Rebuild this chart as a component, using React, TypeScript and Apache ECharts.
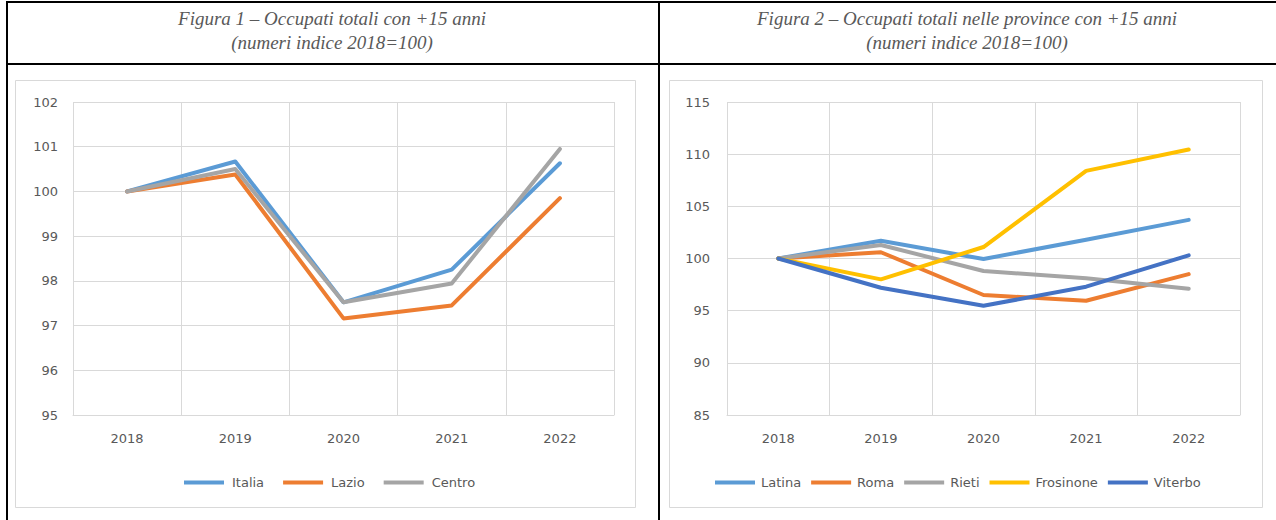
import React, { useEffect, useRef } from "react";
import * as echarts from "echarts";

const years = ["2018", "2019", "2020", "2021", "2022"];

const italia = [100, 100.67, 97.52, 98.25, 100.63];
const lazio = [100, 100.38, 97.16, 97.45, 99.85];
const centro = [100, 100.5, 97.52, 97.94, 100.95];

const latina = [100, 101.7, 99.95, 101.8, 103.7];
const roma = [100, 100.6, 96.5, 95.95, 98.5];
const rieti = [100, 101.3, 98.8, 98.1, 97.1];
const frosinone = [100, 98.0, 101.1, 108.4, 110.45];
const viterbo = [100, 97.2, 95.47, 97.3, 100.3];

const title1 = ["Figura 1 – Occupati totali con +15 anni", "(numeri indice 2018=100)"];
const title2 = ["Figura 2 – Occupati totali nelle province con +15 anni", "(numeri indice 2018=100)"];

const y1Min = 95, y1Max = 102, y1Step = 1;
const y2Min = 85, y2Max = 115, y2Step = 5;

const names1 = ["Italia", "Lazio", "Centro"];
const names2 = ["Latina", "Roma", "Rieti", "Frosinone", "Viterbo"];

const BLUE = "#5B9BD5";
const ORANGE = "#ED7D31";
const GRAY = "#A5A5A5";
const YELLOW = "#FFC000";
const DARKBLUE = "#4472C4";
const GRID = "#D9D9D9";
const TXT = "#595959";
const FONT = "DejaVu Sans";
const TITLE_FONT = 'italic 19px "Liberation Serif"';

export default function App() {
  const ref = useRef<HTMLDivElement>(null);
  useEffect(() => {
    document.body.style.margin = "0";
    const chart = echarts.init(ref.current!, undefined, { renderer: "svg" });

    const xAxisBase = (gridIndex: number) => ({
      type: "category" as const,
      gridIndex,
      data: years,
      boundaryGap: true,
      axisLine: { show: true, lineStyle: { color: GRID, width: 1 } },
      axisTick: { show: false },
      splitLine: { show: true, lineStyle: { color: GRID, width: 1 } },
      axisLabel: { color: TXT, fontFamily: FONT, fontSize: 13, margin: 17 },
    });
    const yAxisBase = (gridIndex: number, min: number, max: number, interval: number, margin: number) => ({
      type: "value" as const,
      gridIndex,
      min,
      max,
      interval,
      axisLine: { show: false },
      axisTick: { show: false },
      splitLine: { show: true, lineStyle: { color: GRID, width: 1 } },
      axisLabel: { color: TXT, fontFamily: FONT, fontSize: 13, margin },
    });
    const line = (name: string, data: number[], color: string, idx: number) => ({
      type: "line" as const,
      name,
      data,
      xAxisIndex: idx,
      yAxisIndex: idx,
      symbol: "none",
      lineStyle: { color, width: 4, cap: "round", join: "round" },
      itemStyle: { color },
    });

    const legendBase = {
      icon: "rect",
      itemWidth: 40,
      itemHeight: 4,
      textStyle: { color: TXT, fontFamily: FONT, fontSize: 13 },
    };

    const titleText = (x: number, y: number, text: string) => ({
      type: "text",
      x,
      y,
      style: { text, textAlign: "center", textVerticalAlign: "middle", font: TITLE_FONT, fill: TXT },
      silent: true,
    });

    chart.setOption({
      animation: false,
      backgroundColor: "#ffffff",
      grid: [
        { left: 73, top: 102, width: 541, height: 313 },
        { left: 727, top: 102, width: 513, height: 313 },
      ],
      xAxis: [xAxisBase(0), xAxisBase(1)],
      yAxis: [
        yAxisBase(0, y1Min, y1Max, y1Step, 15),
        yAxisBase(1, y2Min, y2Max, y2Step, 17),
      ],
      legend: [
        {
          ...legendBase,
          data: names1,
          left: 179,
          top: 471,
          itemGap: 19,
          textStyle: { ...legendBase.textStyle, padding: [0, 0, 0, 3] },
        },
        {
          ...legendBase,
          data: names2,
          left: 710,
          top: 471,
          itemGap: 10,
          textStyle: { ...legendBase.textStyle, padding: [0, 0, 0, 1] },
        },
      ],
      series: [
        line(names1[0], italia, BLUE, 0),
        line(names1[1], lazio, ORANGE, 0),
        line(names1[2], centro, GRAY, 0),
        line(names2[0], latina, BLUE, 1),
        line(names2[1], roma, ORANGE, 1),
        line(names2[2], rieti, GRAY, 1),
        line(names2[3], frosinone, YELLOW, 1),
        line(names2[4], viterbo, DARKBLUE, 1),
      ],
      graphic: [
        { type: "rect", shape: { x: 15.5, y: 80.5, width: 620, height: 427 }, style: { fill: "none", stroke: GRID, lineWidth: 1 }, silent: true },
        { type: "rect", shape: { x: 669.5, y: 80.5, width: 593, height: 427 }, style: { fill: "none", stroke: GRID, lineWidth: 1 }, silent: true },
        { type: "line", shape: { x1: 6, y1: 2, x2: 1276, y2: 2 }, style: { stroke: "#000", lineWidth: 2 }, silent: true },
        { type: "line", shape: { x1: 6, y1: 64, x2: 1276, y2: 64 }, style: { stroke: "#000", lineWidth: 2 }, silent: true },
        { type: "line", shape: { x1: 7, y1: 1, x2: 7, y2: 520 }, style: { stroke: "#000", lineWidth: 2 }, silent: true },
        { type: "line", shape: { x1: 659, y1: 1, x2: 659, y2: 520 }, style: { stroke: "#000", lineWidth: 2 }, silent: true },
        titleText(332, 18, title1[0]),
        titleText(332, 42, title1[1]),
        titleText(967, 18, title2[0]),
        titleText(967, 42, title2[1]),
      ],
    });
    return () => chart.dispose();
  }, []);
  return <div ref={ref} style={{ width: 1276, height: 520, background: "#fff" }} />;
}
